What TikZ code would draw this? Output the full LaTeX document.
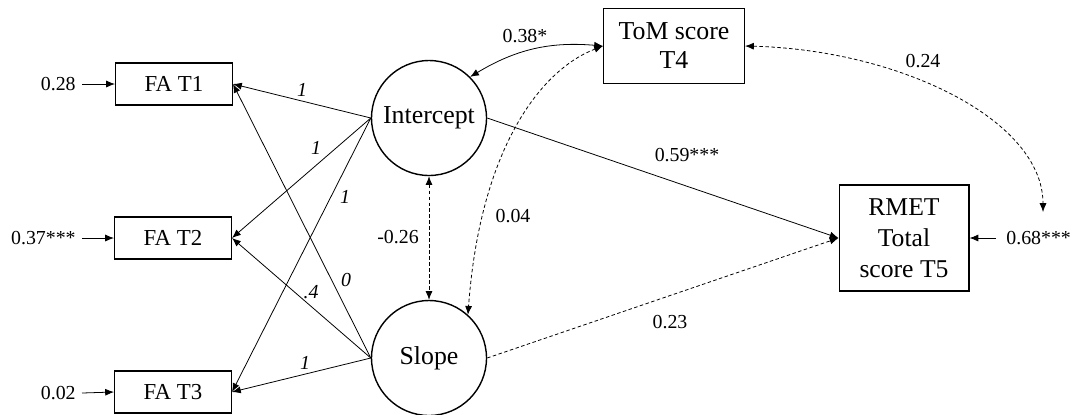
\documentclass[tikz,border=0pt]{standalone}
\usepackage{fontspec}
\setmainfont{Liberation Serif}
\usetikzlibrary{arrows.meta}

\begin{document}
\begin{tikzpicture}[x=0.02cm,y=0.02cm,
    box/.style={draw,line width=0.6pt,minimum width=2.34cm,minimum height=0.84cm,
        inner sep=0pt,align=center,font=\fontsize{13}{15}\selectfont},
    latent/.style={draw,circle,line width=0.8pt,minimum size=2.3cm,inner sep=0pt,
        font=\fontsize{14.7}{16}\selectfont},
    arr/.style={-{Latex[length=5pt,width=4pt]},line width=0.45pt},
    cov/.style={{Latex[length=5pt,width=4pt]}-{Latex[length=5pt,width=4pt]},line width=0.45pt},
    dsh/.style={dash pattern=on 2pt off 1.4pt},
    est/.style={inner sep=0pt,font=\fontsize{11.3}{13}\selectfont},
    load/.style={inner sep=0pt,font=\itshape\fontsize{11.3}{13}\selectfont}]

    \useasboundingbox (0,0) rectangle (1077,-414);

    % observed measures
    \node[box] (fa1) at (174,-84) {FA T1};
    \node[box] (fa2) at (173,-238) {FA T2};
    \node[box] (fa3) at (173,-392) {FA T3};
    \node[box,minimum width=2.82cm,minimum height=1.5cm,font=\fontsize{14.7}{16.5}\selectfont] (tom) at (674,-46) {ToM score\\T4};
    \node[box,minimum width=2.6cm,minimum height=2.12cm,font=\fontsize{14.6}{17.5}\selectfont] (rmet) at (904,-238) {RMET\\Total\\score T5};

    % growth factors
    \node[latent] (int) at (429,-118) {Intercept};
    \node[latent] (slope) at (429,-358) {Slope};

    % residuals
    \node[est,anchor=east] (e1) at (76,-84) {0.28};
    \node[est,anchor=east] (e2) at (76,-238) {0.37***};
    \node[est,anchor=east] (e3) at (76,-393) {0.02};
    \node[est,anchor=west] (e5) at (1006,-238) {0.68***};
    \draw[arr] (e1.east) ++(6,0) -- (fa1.west);
    \draw[arr] (e2.east) ++(6,0) -- (fa2.west);
    \draw[arr] (e3.east) ++(6,0) -- (fa3.west);
    \draw[arr] (e5.west) ++(-10,0) -- (rmet.east);

    % loadings
    \foreach \f/\t/\px/\py in {fa1/1/302/-90, fa2/1/316/-148, fa3/1/345/-197}{
        \draw[arr] (int.west) -- (\f.east);
        \node[load] at (\px,\py) {\t};
    }
    \foreach \f/\t/\px/\py in {fa1/0/346/-280, fa2/.4/311/-292, fa3/1/305/-363}{
        \draw[arr] (slope.west) -- (\f.east);
        \node[load] at (\px,\py) {\t};
    }

    % regressions and covariances
    \draw[arr] (int.east) -- (rmet.west);
    \node[est] at (687,-155) {0.59***};
    \draw[arr,dsh] (slope.east) -- (rmet.west);
    \node[est] at (670,-322) {0.23};
    \draw[cov,dsh] (int.south) -- (slope.north);
    \node[est] at (398,-237) {-0.26};
    \draw[cov] (int.45) to[bend left=18] (tom.west);
    \node[est] at (525,-36) {0.38*};
    \draw[cov,dsh] (tom.west) .. controls (540,-70) and (480,-150) .. (slope.48);
    \node[est] at (513,-216) {0.04};
    \coordinate (e5top) at (1043,-212);
    \draw[cov,dsh] (tom.east) .. controls (900,-50) and (1043,-120) .. (e5top);
    \node[est] at (923,-61) {0.24};

\end{tikzpicture}
\end{document}
